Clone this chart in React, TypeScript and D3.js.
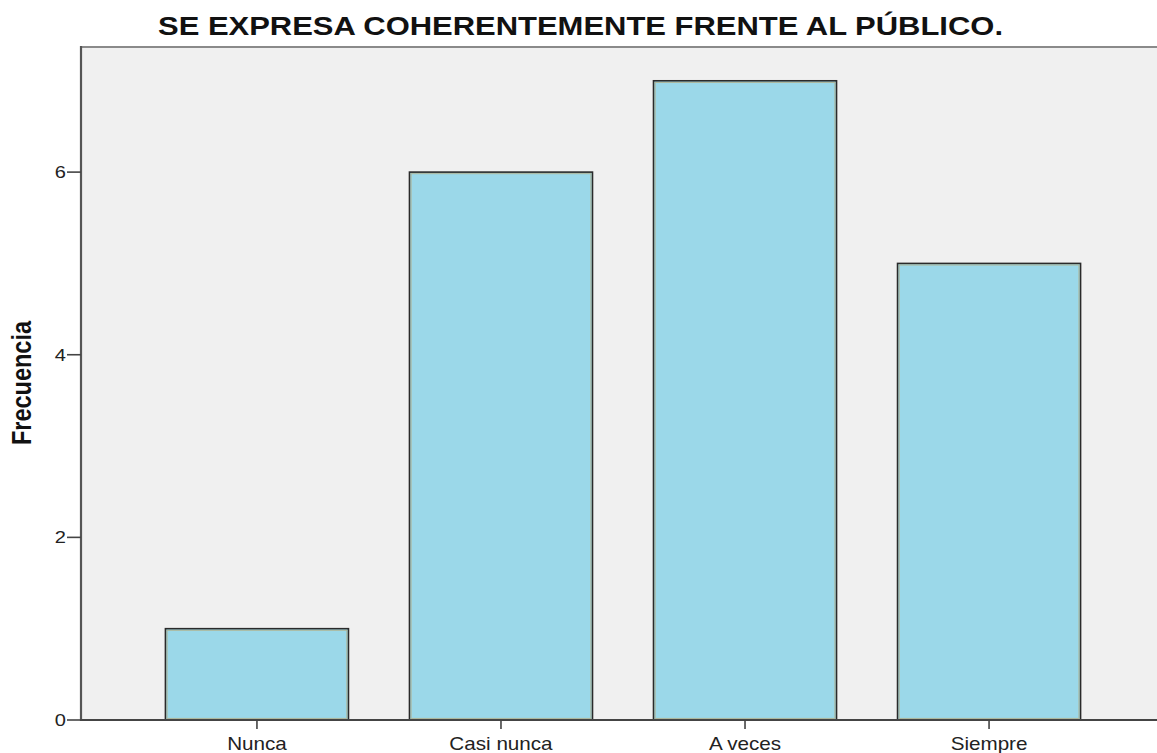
import React from "react";
import * as d3 from "d3";

const categories = ["Nunca", "Casi nunca", "A veces", "Siempre"];
const frequencies = [1, 6, 7, 5];
const yTicks = [0, 2, 4, 6];
const title = "SE EXPRESA COHERENTEMENTE FRENTE AL PÚBLICO.";
const yTitle = "Frecuencia";

const W = 1157;
const H = 753;
const left = 81;
const right = 1165;
const top = 47;
const bottom = 720;
const SX = 1.18;
const FONT = "'Liberation Sans', Arial, Helvetica, sans-serif";

export default function App() {
  const x = d3
    .scaleBand<string>()
    .domain(categories)
    .range([left, right])
    .paddingInner(0.25)
    .paddingOuter(0.346);
  const y = d3.scaleLinear().domain([0, 7.37]).range([bottom, top]);

  return (
    <svg
      width={W}
      height={H}
      style={{ position: "absolute", left: 0, top: 0, background: "#fff" }}
      fontFamily={FONT}
    >
      <rect x={left} y={top} width={right - left} height={bottom - top} fill="#f0f0f0" />
      {/* top border */}
      <line x1={left} x2={W} y1={top} y2={top} stroke="#8a8a8a" strokeWidth={2} />
      {/* bars */}
      {categories.map((c, i) => {
        const bx = x(c)!;
        const bw = x.bandwidth();
        const by = y(frequencies[i]);
        const bh = y(0) - by;
        return (
          <g key={c}>
            <rect x={bx} y={by} width={bw} height={bh} fill="#9bd8e9" stroke="#2a2a2a" strokeWidth={1.6} />
            <rect
              x={bx + 1.6}
              y={by + 1.6}
              width={bw - 3.2}
              height={bh - 3.2}
              fill="none"
              stroke="#b5a97a"
              strokeWidth={0.9}
              opacity={0.8}
            />
          </g>
        );
      })}
      {/* axes */}
      <line x1={left} x2={left} y1={top - 1} y2={bottom + 1} stroke="#555" strokeWidth={2.2} />
      <line x1={left - 1} x2={W} y1={bottom} y2={bottom} stroke="#444" strokeWidth={2.2} />
      {/* y ticks */}
      {yTicks.map((t) => (
        <g key={t}>
          <line x1={67} x2={left} y1={y(t)} y2={y(t)} stroke="#444" strokeWidth={1.6} />
          <text
            transform={`translate(66,${y(t) + 6}) scale(${SX},1)`}
            textAnchor="end"
            fontSize={17}
            fill="#222"
          >
            {t}
          </text>
        </g>
      ))}
      {/* x ticks */}
      {categories.map((c) => {
        const cx = x(c)! + x.bandwidth() / 2;
        return (
          <g key={c}>
            <line x1={cx} x2={cx} y1={bottom} y2={bottom + 9} stroke="#444" strokeWidth={1.6} />
            <text
              transform={`translate(${cx},${bottom + 30}) scale(${SX},1)`}
              textAnchor="middle"
              fontSize={17.5}
              fill="#222"
            >
              {c}
            </text>
          </g>
        );
      })}
      {/* y title */}
      <text
        transform={`translate(31,383) scale(${SX},1) rotate(-90)`}
        textAnchor="middle"
        fontSize={23.5}
        fontWeight="bold"
        fill="#111"
      >
        {yTitle}
      </text>
      {/* title */}
      <text
        x={580.5}
        y={34.5}
        textAnchor="middle"
        fontSize={25}
        fontWeight="bold"
        fill="#111"
        textLength={845}
        lengthAdjust="spacingAndGlyphs"
      >
        {title}
      </text>
    </svg>
  );
}
